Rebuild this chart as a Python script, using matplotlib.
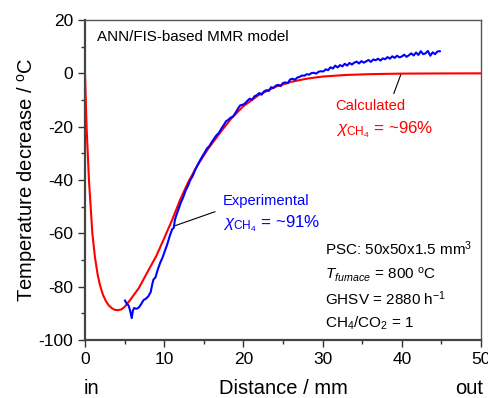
import matplotlib
matplotlib.use("Agg")
import matplotlib.pyplot as plt

plt.rcParams['font.family'] = ['Liberation Sans', 'DejaVu Sans']
plt.rcParams['mathtext.fontset'] = 'custom'
plt.rcParams['mathtext.rm'] = 'Liberation Sans'
plt.rcParams['mathtext.it'] = 'Liberation Sans:italic'
plt.rcParams['mathtext.bf'] = 'Liberation Sans:bold'
plt.rcParams['axes.unicode_minus'] = False

# ---------------- DATA ----------------
calc_x = [0, 0.2, 0.5, 0.93, 1.26, 1.6, 1.9, 2.3, 2.7, 3.0, 3.4, 3.8, 4.2, 4.6, 5.0,
          5.7, 6.8, 7.8, 9.0, 9.9, 11.0, 12.0, 13.0, 14.1, 15.5, 17.0, 18.5, 20.0,
          22.0, 24.0, 26.0, 28.0, 30.0, 33.0, 36.0, 40.0, 45.0, 50.0]
calc_y = [0, -20, -40, -60, -69, -75.5, -79.5, -83.3, -85.7, -87.0, -88.1, -88.7, -88.8, -88.5, -87.6,
          -85, -80.5, -75, -68.5, -62.5, -55, -47.5, -41, -35, -28.5, -22.5, -16.8, -12.3,
          -8.0, -5.1, -3.2, -2.0, -1.2, -0.6, -0.3, -0.1, -0.03, 0]

exp_x = [5.05, 5.3, 5.5, 5.7, 5.9, 6.05, 6.2, 6.5, 6.8, 7.1, 7.4, 7.7, 8.0, 8.3, 8.5, 8.65,
         8.9, 9.2, 9.5, 9.8, 10.1, 10.4, 10.7, 11.0, 11.2, 11.35, 11.5, 11.8, 12.1, 12.4,
         12.7, 13.0, 13.3, 13.6, 13.9, 14.2, 14.5, 14.8, 15.1, 15.4, 15.7, 16.0, 16.3,
         16.6, 16.9, 17.2, 17.5, 17.8, 18.1, 18.4, 18.7, 19.0, 19.3, 19.6, 19.9, 20.2,
         20.5, 20.8, 21.1, 21.4, 21.7, 22.0, 22.3, 22.6, 22.9, 23.2, 23.5, 23.8, 24.1,
         24.4, 24.7, 25.0, 25.3, 25.6, 25.9, 26.2, 26.5, 26.8, 27.1, 27.4, 27.7, 28.0,
         28.3, 28.6, 28.9, 29.2, 29.5, 29.8, 30.1, 30.4, 30.7, 31.0, 31.3, 31.6, 31.9,
         32.2, 32.5, 32.8, 33.1, 33.4, 33.7, 34.0, 34.3, 34.6, 34.9, 35.2, 35.5, 35.8,
         36.1, 36.4, 36.7, 37.0, 37.3, 37.6, 37.9, 38.2, 38.5, 38.8, 39.1, 39.4, 39.7,
         40.0, 40.3, 40.6, 40.9, 41.2, 41.5, 41.8, 42.1, 42.4, 42.7, 43.0, 43.3, 43.6,
         43.9, 44.2, 44.5, 44.8]
exp_y = [-85.2, -86.5, -87, -89, -91.8, -89, -88, -88.3, -87.8, -86.5, -85, -84.5, -83.6, -82,
         -79, -77.3, -76.5, -73.5, -71, -69, -66.5, -64, -61, -58.5, -58, -55, -53.5, -51,
         -48.5, -46.5, -44, -42.2, -40, -38.5, -36.3, -34.5, -32.8, -31.2, -29.8, -28.2,
         -27.3, -25.8, -24.5, -23.2, -22.4, -20.8, -19.5, -18.0, -17.4, -16.6, -16.2, -14.8,
         -13.3, -12.0, -11.8, -11.3, -10.3, -9.5, -9.9, -8.6, -8.2, -7.4, -8.0, -6.8, -6.3,
         -6.6, -5.2, -5.5, -4.6, -4.3, -4.8, -3.6, -3.4, -3.7, -2.3, -2.0, -2.4, -1.6, -1.3,
         -0.8, -0.9, -0.3, -0.5, 0.1, 0.2, -0.1, 0.6, 0.8, 0.7, 1.5, 1.2, 2.3, 1.8, 2.9, 2.2,
         3.1, 2.6, 3.6, 2.9, 3.9, 3.3, 4.0, 4.4, 3.7, 4.6, 4.0, 4.5, 5.0, 4.3, 5.2, 4.9, 5.5,
         4.8, 5.6, 5.3, 6.1, 5.5, 6.4, 5.8, 6.6, 6.0, 6.3, 7.0, 6.2, 6.8, 7.5, 6.7, 7.8, 6.9,
         8.3, 7.2, 7.5, 8.4, 6.6, 7.9, 7.2, 8.2, 8.3]

# ---------------- PLOT ----------------
fig = plt.figure(figsize=(4.89, 3.98), dpi=100)
ax = fig.add_axes([0.1738, 0.1457, 0.8098, 0.804])

ax.plot(calc_x, calc_y, color='#ff0000', lw=1.5, zorder=3)
ax.plot(exp_x, exp_y, color='#0000ff', lw=1.5, zorder=4)

ax.set_xlim(0, 50)
ax.set_ylim(-100, 20)
ax.set_xticks([0, 10, 20, 30, 40, 50])
ax.set_xticks([5, 15, 25, 35, 45], minor=True)
ax.set_yticks([-100, -80, -60, -40, -20, 0, 20])
ax.set_yticks([-90, -70, -50, -30, -10, 10], minor=True)
ax.tick_params(which='major', direction='out', length=5, width=1, labelsize=12.5,
               colors='#333333', labelcolor='black')
ax.tick_params(which='minor', direction='out', length=3, width=1, colors='#333333')

for s in ['left', 'bottom']:
    ax.spines[s].set_linewidth(1.6)
    ax.spines[s].set_color('#444444')
for s in ['top', 'right']:
    ax.spines[s].set_linewidth(1.0)
    ax.spines[s].set_color('#555555')

fig.text(27 / 489, 1 - 180 / 398, r'Temperature decrease / $^\mathrm{o}$C', fontsize=14.5,
         rotation=90, ha='center', va='center')
fig.text(0.579, 0.009, 'Distance / mm', fontsize=14.5, ha='center', va='baseline')
fig.text(0.170, 0.009, 'in', fontsize=14.5, ha='left', va='baseline')
fig.text(0.988, 0.009, 'out', fontsize=14.5, ha='right', va='baseline')

ax.text(1.55, 13.7, 'ANN/FIS-based MMR model', fontsize=10.9, va='center')

# calculated label
ax.text(31.65, -12.4, 'Calculated', fontsize=10.6, color='#ff0000', va='center')
ax.text(31.65, -21.0, r'$\chi_{\mathrm{CH}_4}$ = ~96%', fontsize=12.2, color='#ff0000', va='center')
ax.plot([39.9, 39.0], [-0.3, -7.5], color='black', lw=0.8)

# experimental label
ax.text(17.4, -47.9, 'Experimental', fontsize=10.6, color='#0000ff', va='center')
ax.text(17.4, -56.3, r'$\chi_{\mathrm{CH}_4}$ = ~91%', fontsize=12.2, color='#0000ff', va='center')
ax.plot([11.4, 16.4], [-57.1, -51.9], color='black', lw=0.8)

# conditions
ax.text(30.3, -65.8, r'PSC: 50x50x1.5 mm$^3$', fontsize=11, va='center')
ax.text(30.3, -75.4, r'$T_{furnace}$ = 800 $^\mathrm{o}$C', fontsize=11, va='center')
ax.text(30.3, -84.6, r'GHSV = 2880 h$^{-1}$', fontsize=11, va='center')
ax.text(30.3, -93.6, r'CH$_4$/CO$_2$ = 1', fontsize=11, va='center')

fig.savefig('out.png', dpi=100)
